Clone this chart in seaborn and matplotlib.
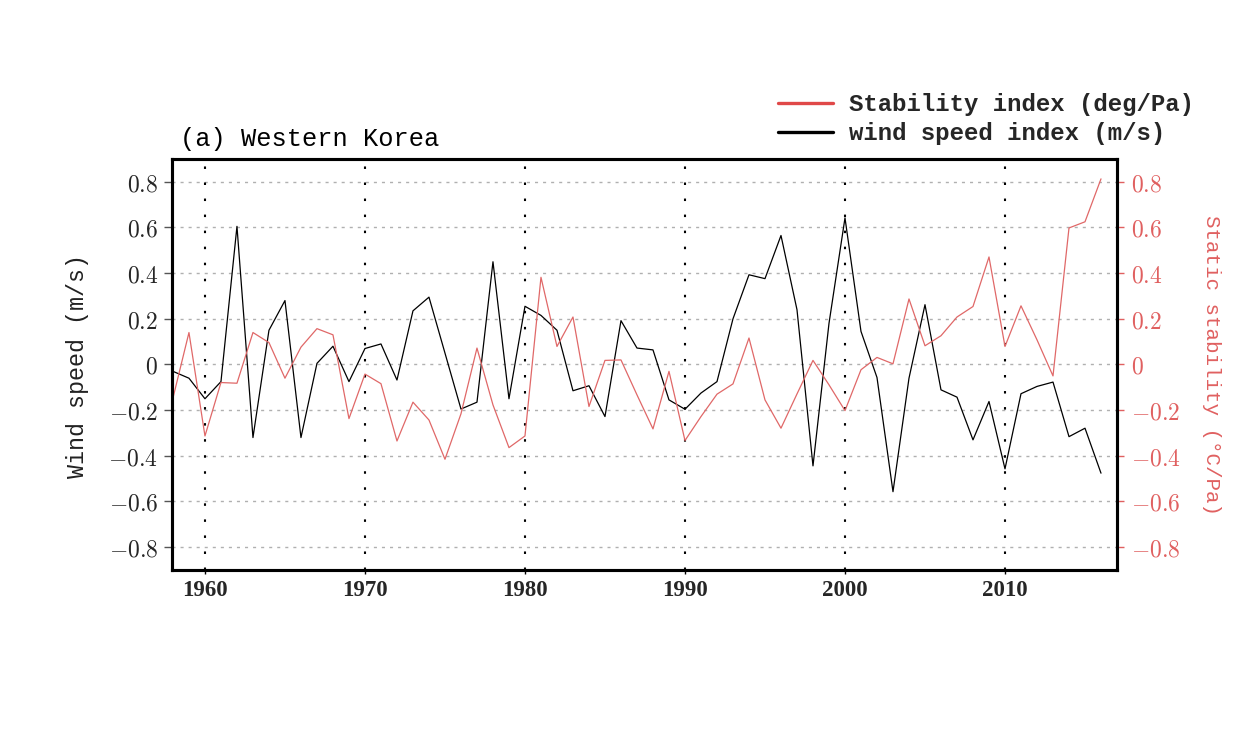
import numpy as np
import pandas as pd
import matplotlib
matplotlib.use("Agg")
import matplotlib.pyplot as plt
import seaborn as sns
from matplotlib.ticker import FuncFormatter, FixedLocator
from matplotlib.lines import Line2D

# ---------------- data ----------------
years = list(range(1958, 2017))

wind_speed = [
    -0.03, -0.06, -0.15, -0.075, 0.605, -0.32, 0.15, 0.28, -0.32, 0.005,
    0.08, -0.075, 0.07, 0.09, -0.068, 0.235, 0.295, 0.05, -0.195, -0.165,
    0.45, -0.15, 0.255, 0.215, 0.15, -0.115, -0.093, -0.228, 0.192, 0.072,
    0.064, -0.155, -0.196, -0.125, -0.075, 0.2, 0.393, 0.376, 0.565, 0.24,
    -0.444, 0.18, 0.642, 0.145, -0.057, -0.557, -0.06, 0.262, -0.111, -0.143,
    -0.33, -0.162, -0.457, -0.128, -0.096, -0.077, -0.316, -0.279, -0.476,
]

stability = [
    -0.147, 0.14, -0.313, -0.079, -0.082, 0.14, 0.096, -0.06, 0.076, 0.157,
    0.13, -0.237, -0.042, -0.084, -0.335, -0.165, -0.243, -0.415, -0.216, 0.072,
    -0.177, -0.364, -0.313, 0.382, 0.079, 0.208, -0.184, 0.018, 0.02, -0.133,
    -0.282, -0.03, -0.333, -0.228, -0.13, -0.085, 0.116, -0.155, -0.279, -0.129,
    0.018, -0.089, -0.202, -0.023, 0.031, 0.003, 0.287, 0.082, 0.126, 0.208,
    0.254, 0.471, 0.079, 0.257, 0.108, -0.05, 0.598, 0.625, 0.813,
]

decade_ticks = [1960, 1970, 1980, 1990, 2000, 2010]
y_ticks = [-0.8, -0.6, -0.4, -0.2, 0.0, 0.2, 0.4, 0.6, 0.8]

title_text = "(a) Western Korea"
left_label = "Wind speed (m/s)"
right_label = "Static stability (°C/Pa)"
legend_red = "Stability index (deg/Pa)"
legend_black = "wind speed index (m/s)"

# ---------------- style ----------------
sns.set_theme(style="white")
plt.rcParams["mathtext.fontset"] = "cm"
plt.rcParams["font.family"] = ["DejaVu Sans"]

RED_LINE = "#e06868"
RED_TXT = "#e06060"
RED_LEG = "#e04848"

df = pd.DataFrame({"year": years, "wind": wind_speed, "stab": stability})

fig = plt.figure(figsize=(12.4, 7.46), dpi=100)
ax = fig.add_axes([172 / 1240, 1 - 570 / 746, (1117 - 172) / 1240, (570 - 159) / 746])
ax2 = ax.twinx()

sns.lineplot(data=df, x="year", y="wind", ax=ax, color="black", lw=0.9)
sns.lineplot(data=df, x="year", y="stab", ax=ax2, color=RED_LINE, lw=0.9)

for a in (ax, ax2):
    a.set_xlim(1957.94, 2017.0)
    a.set_ylim(-0.9, 0.9)
    a.set_xlabel("")
    a.set_ylabel("")
    a.yaxis.set_major_locator(FixedLocator(y_ticks))

fmt = FuncFormatter(lambda v, p: r"$0$" if abs(v) < 1e-9 else r"$%.1f$" % v)
ax.yaxis.set_major_formatter(fmt)
ax2.yaxis.set_major_formatter(fmt)

# grids
ax.yaxis.grid(True, color="#b0b0b0", linestyle=(0, (2.2, 3.6)), lw=1.0)
for xv in decade_ticks:
    ax.axvline(xv, color="black", linestyle=(0, (1.2, 6.5)), lw=1.5, zorder=1)
ax.xaxis.grid(False)
ax2.grid(False)

ax.set_xticks(decade_ticks)
ax.set_xticklabels([str(y) for y in decade_ticks],
                   fontfamily="Liberation Serif", fontweight="bold", fontsize=16.5)

ax.tick_params(axis="y", which="major", direction="out", length=6, width=1,
               color="#555555", labelsize=17, pad=4, left=True, right=False)
ax.tick_params(axis="x", which="major", direction="out", length=3, width=1,
               color="black", pad=4, bottom=True)
ax2.tick_params(axis="y", which="major", direction="out", length=5, width=1,
                color=RED_TXT, labelcolor=RED_TXT, labelsize=17, pad=5, right=True)

for a in (ax, ax2):
    for s in a.spines.values():
        s.set_linewidth(2.2)
        s.set_color("black")

# texts
fig.text(180 / 1240, 1 - 139 / 746, title_text, fontfamily="Liberation Mono",
         fontsize=18.3, ha="left", va="center", color="black")
fig.text(78 / 1240, 1 - 366 / 746, left_label, fontfamily="Liberation Mono",
         fontsize=16.8, rotation=90, ha="center", va="center", color="#222222")
fig.text(1212 / 1240, 1 - 365 / 746, right_label, fontfamily="Liberation Mono",
         fontsize=15, rotation=270, ha="center", va="center", color=RED_TXT)

handles = [Line2D([0], [0], color=RED_LEG, lw=2.4),
           Line2D([0], [0], color="black", lw=2.4)]
fig.legend(handles, [legend_red, legend_black], loc="upper right",
           bbox_to_anchor=(1194 / 1240, 1 - 93 / 746), frameon=False,
           prop={"family": "Liberation Mono", "weight": "bold", "size": 17.3},
           handlelength=2.3, handletextpad=0.65, labelspacing=0.26,
           borderpad=0, borderaxespad=0)

fig.savefig("out.png", dpi=100)
